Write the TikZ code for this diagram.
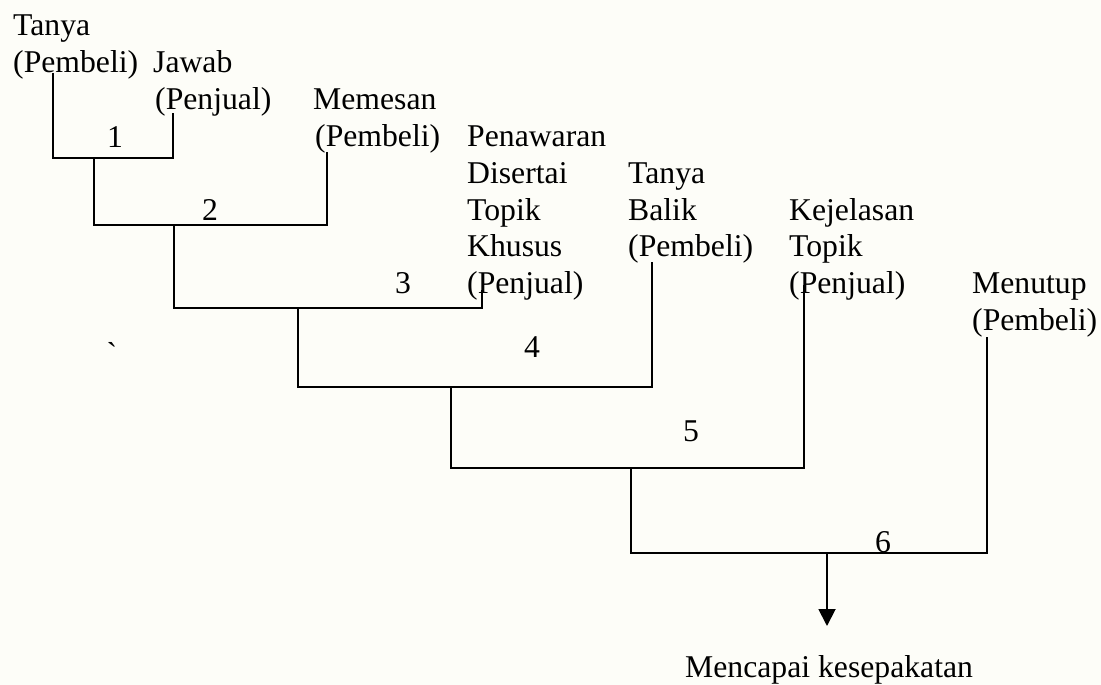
\documentclass[tikz,border=0pt]{standalone}
\usepackage{fontspec}
\setmainfont{Liberation Serif}
\newfontfamily\gravefont{Liberation Serif}[Ligatures=TeXOff]
\usetikzlibrary{arrows.meta}
\definecolor{bgcream}{RGB}{253,253,248}
% left-aligned stack of lines whose baseline is that of the first line
\newcommand\stacklines[1]{\begin{tabular}[t]{@{}l@{}}#1\end{tabular}}
\begin{document}
\begin{tikzpicture}[x=1pt,y=-1pt,
  wire/.style={line width=1.9pt, line join=miter},
  flow/.style={wire,-{Triangle[length=17pt,width=17pt]}},
  label/.style={anchor=base west, inner sep=0pt, font=\fontsize{31.7}{36.8}\selectfont},
  stepnum/.style={anchor=base, inner sep=0pt, font=\fontsize{31.7}{36.8}\selectfont}]
\fill[bgcream] (0,0) rectangle (1101,685);
\useasboundingbox (0,0) rectangle (1101,685);

% speech acts
\node[label] (tanya)     at (13,36)     {\stacklines{Tanya\\(Pembeli)}};
\node[label] (jawab)     at (153,72.8)  {\stacklines{Jawab\\\hspace*{2pt}(Penjual)}};
\node[label] (memesan)   at (313,109.6) {\stacklines{Memesan\\\hspace*{2pt}(Pembeli)}};
\node[label] (penawaran) at (467,146.4) {\stacklines{Penawaran\\Disertai\\Topik\\Khusus\\(Penjual)}};
\node[label] (balik)     at (628,183.2) {\stacklines{Tanya\\Balik\\(Pembeli)}};
\node[label] (kejelasan) at (789,220)   {\stacklines{Kejelasan\\Topik\\(Penjual)}};
\node[label] (menutup)   at (972,293.6) {\stacklines{Menutup\\(Pembeli)}};
\node[label] (sepakat)   at (685,677)   {Mencapai kesepakatan};
\node[stepnum] (tick)    at (112,364)   {\gravefont\char96};

% step numbers
\node[stepnum] (n1) at (115,147) {1};
\node[stepnum] (n2) at (210,220) {2};
\node[stepnum] (n3) at (403,293) {3};
\node[stepnum] (n4) at (532,357) {4};
\node[stepnum] (n5) at (691,441) {5};
\node[stepnum] (n6) at (883,552) {6};

% where the connectors leave each label
\coordinate (lTanya)     at (53,73);
\coordinate (lJawab)     at (173,113);
\coordinate (lMemesan)   at (327,152);
\coordinate (lPenawaran) at (482,290);
\coordinate (lBalik)     at (652,262);
\coordinate (lKejelasan) at (804,285);
\coordinate (lMenutup)   at (987,337);

% junctions of the tree
\coordinate (j1) at (94,158);
\coordinate (j2) at (174,225);
\coordinate (j3) at (298,308);
\coordinate (j4) at (451,387);
\coordinate (j5) at (631,468);
\coordinate (j6) at (827,553);
\coordinate (goal) at (827,626);

\draw[wire] (lTanya) |- (j1) -| (lJawab);
\draw[wire] (j1) |- (j2) -| (lMemesan);
\draw[wire] (j2) |- (j3) -| (lPenawaran);
\draw[wire] (j3) |- (j4) -| (lBalik);
\draw[wire] (j4) |- (j5) -| (lKejelasan);
\draw[wire] (j5) |- (j6) -| (lMenutup);
\draw[flow] (j6) -- (goal);
\end{tikzpicture}
\end{document}
